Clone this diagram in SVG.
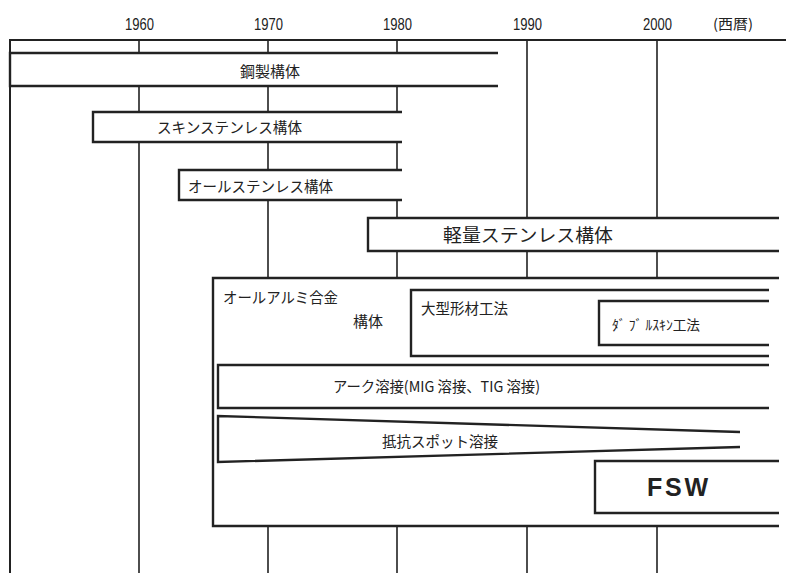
<svg xmlns="http://www.w3.org/2000/svg" width="786" height="573" viewBox="0 0 786 573">
<style>
.grid{stroke:#222;stroke-width:1.6;fill:none}
.frame{stroke:#222;stroke-width:2;fill:none}
.box{stroke:#222;stroke-width:2.4;fill:none}
.bg{fill:#fff;stroke:none}
.t{font-family:"Noto Sans CJK JP","Liberation Sans",sans-serif;fill:#222}
.y{font-family:"Liberation Sans","Noto Sans CJK JP",sans-serif;fill:#222;font-size:17px}
</style>
<rect width="786" height="573" fill="#fff"/>
<g id="axis">
<text class="y" x="125" y="30" textLength="29" lengthAdjust="spacingAndGlyphs">1960</text>
<text class="y" x="254" y="30" textLength="29" lengthAdjust="spacingAndGlyphs">1970</text>
<text class="y" x="383" y="30" textLength="29" lengthAdjust="spacingAndGlyphs">1980</text>
<text class="y" x="513" y="30" textLength="29" lengthAdjust="spacingAndGlyphs">1990</text>
<text class="y" x="643" y="30" textLength="29" lengthAdjust="spacingAndGlyphs">2000</text>
<text class="t" x="713" y="29" font-size="14" textLength="40" lengthAdjust="spacingAndGlyphs">(西暦)</text>
</g>
<g id="connectors">
<path class="grid" d="M139,40V573M268,40V573M397,40V573M527,40V573M657,40V573"/>
<path class="frame" d="M786,40H10V573"/>
</g>
<g id="steel">
<rect class="bg" x="10" y="53" width="488" height="33"/>
<path class="box" d="M498,53H10V86H498"/>
<text class="t" x="240" y="77" font-size="15" textLength="60" lengthAdjust="spacingAndGlyphs">鋼製構体</text>
</g>
<g id="skin-stainless">
<rect class="bg" x="93" y="112" width="309" height="30"/>
<path class="box" d="M402,112H93V142H402"/>
<text class="t" x="157" y="133" font-size="15" textLength="145" lengthAdjust="spacingAndGlyphs">スキンステンレス構体</text>
</g>
<g id="all-stainless">
<rect class="bg" x="179" y="170" width="223" height="30"/>
<path class="box" d="M402,170H179V200H402"/>
<text class="t" x="188" y="192" font-size="15" textLength="145" lengthAdjust="spacingAndGlyphs">オールステンレス構体</text>
</g>
<g id="light-stainless">
<rect class="bg" x="368" y="218" width="411" height="33"/>
<path class="box" d="M779,218H368V251H779"/>
<text class="t" x="443" y="242" font-size="18" textLength="170" lengthAdjust="spacingAndGlyphs">軽量ステンレス構体</text>
</g>
<g id="aluminum">
<rect class="bg" x="213" y="278" width="566" height="248"/>
<path class="box" d="M779,278H213V526H779"/>
<text class="t" x="223" y="303" font-size="15" textLength="115" lengthAdjust="spacingAndGlyphs">オールアルミ合金</text>
<text class="t" x="353" y="327" font-size="15" textLength="30" lengthAdjust="spacingAndGlyphs">構体</text>
</g>
<g id="large-extrusion">
<path class="box" d="M769,290H411V356H769"/>
<text class="t" x="421" y="314" font-size="15" textLength="87" lengthAdjust="spacingAndGlyphs">大型形材工法</text>
</g>
<g id="double-skin">
<path class="box" d="M769,301H599V345H769"/>
<text class="t" x="612" y="330" font-size="14" textLength="88" lengthAdjust="spacingAndGlyphs">ﾀﾞ ﾌﾞ ﾙｽｷﾝ工法</text>
</g>
<g id="arc-welding">
<path class="box" d="M769,365H218V408H769"/>
<text class="t" x="333" y="392" font-size="15" textLength="207" lengthAdjust="spacingAndGlyphs">アーク溶接(MIG 溶接、TIG 溶接)</text>
</g>
<g id="spot-welding">
<path class="box" d="M740,432L218,416V462L740,447"/>
<text class="t" x="382" y="447" font-size="15" textLength="116" lengthAdjust="spacingAndGlyphs">抵抗スポット溶接</text>
</g>
<g id="fsw">
<path class="box" d="M779,461H595V513H779"/>
<text x="647" y="496" font-family="Liberation Sans, Arial, sans-serif" font-weight="bold" font-size="25" fill="#222" textLength="61" lengthAdjust="spacing">FSW</text>
</g>
</svg>
